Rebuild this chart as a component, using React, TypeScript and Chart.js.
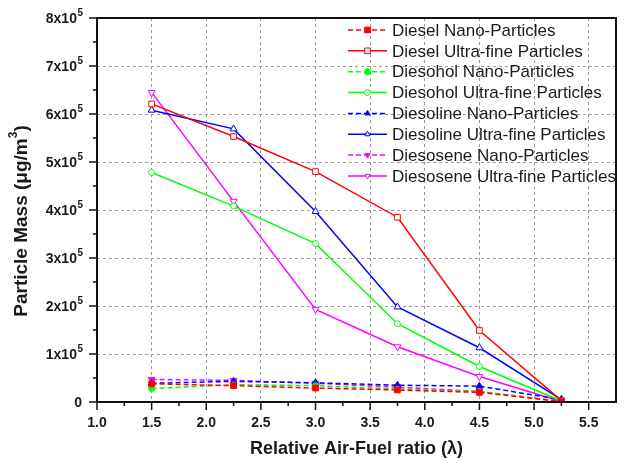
import React, { useEffect, useRef } from "react";
import { Chart, registerables } from "chart.js";

Chart.register(...registerables);

const lambdaValues = [1.5, 2.25, 3.0, 3.75, 4.5, 5.25];
const dieselNano = [0.38e5, 0.34e5, 0.29e5, 0.25e5, 0.2e5, 0.01e5];
const dieselUltra = [6.21e5, 5.53e5, 4.8e5, 3.85e5, 1.49e5, 0.03e5];
const diesoholNano = [0.28e5, 0.36e5, 0.34e5, 0.27e5, 0.22e5, 0.01e5];
const diesoholUltra = [4.78e5, 4.08e5, 3.3e5, 1.63e5, 0.74e5, 0.02e5];
const diesolineNano = [0.39e5, 0.43e5, 0.4e5, 0.35e5, 0.33e5, 0.05e5];
const diesolineUltra = [6.08e5, 5.69e5, 3.97e5, 1.98e5, 1.13e5, 0.05e5];
const diesoseneNano = [0.47e5, 0.45e5, 0.39e5, 0.31e5, 0.22e5, 0.01e5];
const diesoseneUltra = [6.45e5, 4.18e5, 1.93e5, 1.15e5, 0.53e5, 0.01e5];

const seriesLabels = [
  "Diesel Nano-Particles",
  "Diesel Ultra-fine Particles",
  "Diesohol Nano-Particles",
  "Diesohol Ultra-fine Particles",
  "Diesoline Nano-Particles",
  "Diesoline Ultra-fine Particles",
  "Diesosene Nano-Particles",
  "Diesosene Ultra-fine Particles",
];
const seriesValues = [
  dieselNano,
  dieselUltra,
  diesoholNano,
  diesoholUltra,
  diesolineNano,
  diesolineUltra,
  diesoseneNano,
  diesoseneUltra,
];
const seriesColors = ["#ff0000", "#ff0000", "#00ff00", "#00ff00", "#0000ff", "#0000ff", "#ff00ff", "#ff00ff"];
const seriesShapes = ["rect", "rect", "circle", "circle", "triangle", "triangle", "triangleDown", "triangleDown"];
const seriesNano = [true, false, true, false, true, false, true, false];

const xTitle = "Relative Air-Fuel ratio (λ)";
const yTitleMain = "Particle Mass (μg/m";
const yTitleSup = "3";
const yTitleEnd = ")";

const TEXT = "#1a1a1a";
const FONT = '"Liberation Sans", Arial, sans-serif';

function shapeRadius(shape: string) {
  if (shape === "rect") return 4;
  if (shape === "circle") return 3;
  return 4;
}

function drawMarker(ctx: CanvasRenderingContext2D, shape: string, x: number, y: number, r: number, color: string, filled: boolean) {
  ctx.save();
  ctx.setLineDash([]);
  ctx.beginPath();
  if (shape === "rect") {
    const s = Math.SQRT1_2 * r;
    ctx.rect(x - s, y - s, 2 * s, 2 * s);
  } else if (shape === "circle") {
    ctx.arc(x, y, r, 0, Math.PI * 2);
  } else {
    const down = shape === "triangleDown";
    const dir = down ? -1 : 1;
    for (let k = 0; k < 3; k++) {
      const a = -Math.PI / 2 + (k * 2 * Math.PI) / 3;
      const px = x + Math.cos(a) * r;
      const py = y + dir * Math.sin(a) * r;
      if (k === 0) ctx.moveTo(px, py);
      else ctx.lineTo(px, py);
    }
    ctx.closePath();
  }
  ctx.fillStyle = filled ? color : "#ffffff";
  ctx.fill();
  ctx.lineWidth = 1;
  ctx.strokeStyle = color;
  ctx.stroke();
  ctx.restore();
}

const decorPlugin = {
  id: "decor",
  afterDraw(chart: any) {
    const ctx: CanvasRenderingContext2D = chart.ctx;
    const { left, right, top, bottom } = chart.chartArea;
    const xs = chart.scales.x;
    const ys = chart.scales.y;
    ctx.save();

    // frame
    ctx.strokeStyle = "#111";
    ctx.lineWidth = 2;
    ctx.setLineDash([]);
    ctx.strokeRect(left, top, right - left, bottom - top);

    // x ticks
    ctx.lineWidth = 1.5;
    const xTicks = xs.ticks.map((t: any) => t.value);
    xTicks.forEach((v: number) => {
      const px = xs.getPixelForValue(v);
      ctx.beginPath();
      ctx.moveTo(px, bottom);
      ctx.lineTo(px, bottom + 8);
      ctx.stroke();
      const mid = v + (xs.options.ticks.stepSize as number) / 2;
      if (mid < xs.max) {
        const pm = xs.getPixelForValue(mid);
        ctx.beginPath();
        ctx.moveTo(pm, bottom);
        ctx.lineTo(pm, bottom + 4);
        ctx.stroke();
      }
    });
    // y ticks
    const yTicks = ys.ticks.map((t: any) => t.value);
    yTicks.forEach((v: number) => {
      const py = ys.getPixelForValue(v);
      ctx.beginPath();
      ctx.moveTo(left, py);
      ctx.lineTo(left - 8, py);
      ctx.stroke();
      const mid = v + (ys.options.ticks.stepSize as number) / 2;
      if (mid < ys.max) {
        const pm = ys.getPixelForValue(mid);
        ctx.beginPath();
        ctx.moveTo(left, pm);
        ctx.lineTo(left - 4, pm);
        ctx.stroke();
      }
    });

    // x labels
    ctx.fillStyle = TEXT;
    ctx.font = `bold 14px ${FONT}`;
    ctx.textAlign = "center";
    ctx.textBaseline = "middle";
    xTicks.forEach((v: number) => {
      ctx.fillText(v.toFixed(1), xs.getPixelForValue(v), bottom + 21);
    });

    // y labels
    yTicks.forEach((v: number) => {
      const py = ys.getPixelForValue(v);
      const rightEdge = left - 14;
      if (v === 0) {
        ctx.font = `bold 14px ${FONT}`;
        ctx.textAlign = "right";
        ctx.textBaseline = "middle";
        ctx.fillText("0", rightEdge - 1, py + 1);
        return;
      }
      const mantissa = Math.round(v / 1e5);
      ctx.font = `bold 10px ${FONT}`;
      const sw = ctx.measureText("5").width;
      ctx.textAlign = "left";
      ctx.textBaseline = "middle";
      ctx.fillText("5", rightEdge - sw, py - 5);
      ctx.font = `bold 14px ${FONT}`;
      ctx.textAlign = "right";
      ctx.fillText(`${mantissa}x10`, rightEdge - sw - 0.5, py + 1);
    });

    // x title
    ctx.font = `bold 18px ${FONT}`;
    ctx.textAlign = "center";
    ctx.textBaseline = "middle";
    ctx.fillText(xTitle, (left + right) / 2, 449);

    // y title (rotated)
    ctx.save();
    ctx.translate(22, 221);
    ctx.rotate(-Math.PI / 2);
    ctx.font = `bold 19px ${FONT}`;
    const w1 = ctx.measureText(yTitleMain).width;
    const w3 = ctx.measureText(yTitleEnd).width;
    ctx.font = `bold 12px ${FONT}`;
    const w2 = ctx.measureText(yTitleSup).width;
    const total = w1 + w2 + w3;
    let cx = -total / 2;
    ctx.textAlign = "left";
    ctx.textBaseline = "middle";
    ctx.font = `bold 19px ${FONT}`;
    ctx.fillText(yTitleMain, cx, 0);
    cx += w1;
    ctx.font = `bold 12px ${FONT}`;
    ctx.fillText(yTitleSup, cx, -8);
    cx += w2;
    ctx.font = `bold 19px ${FONT}`;
    ctx.fillText(yTitleEnd, cx, 0);
    ctx.restore();

    // legend
    const lx0 = 348;
    const lx1 = 387;
    chart.data.datasets.forEach((ds: any, i: number) => {
      const ly = 30 + i * 20.85;
      ctx.save();
      ctx.strokeStyle = seriesColors[i];
      ctx.lineWidth = 1.5;
      ctx.setLineDash(seriesNano[i] ? [5, 3] : []);
      ctx.beginPath();
      ctx.moveTo(lx0, ly);
      ctx.lineTo(lx1, ly);
      ctx.stroke();
      ctx.restore();
      drawMarker(ctx, seriesShapes[i], (lx0 + lx1) / 2, ly, seriesShapes[i] === "rect" ? 4 : 3, seriesColors[i], seriesNano[i]);
      ctx.fillStyle = TEXT;
      ctx.font = `17px ${FONT}`;
      ctx.textAlign = "left";
      ctx.textBaseline = "middle";
      ctx.fillText(ds.label, 392, ly + 1);
    });

    ctx.restore();
  },
};

export default function App() {
  const canvasRef = useRef<HTMLCanvasElement | null>(null);

  useEffect(() => {
    document.body.style.margin = "0";
    const canvas = canvasRef.current;
    if (!canvas) return;

    const datasets = seriesLabels.map((label, i) => {
      const shape = seriesShapes[i];
      return {
        label,
        data: lambdaValues.map((x, j) => ({ x, y: seriesValues[i][j] })),
        borderColor: seriesColors[i],
        backgroundColor: seriesNano[i] ? seriesColors[i] : "#ffffff",
        pointBorderColor: seriesColors[i],
        pointBackgroundColor: seriesNano[i] ? seriesColors[i] : "#ffffff",
        borderWidth: 1.5,
        borderDash: seriesNano[i] ? [5, 3] : [],
        pointStyle: shape === "triangleDown" ? "triangle" : shape,
        pointRotation: shape === "triangleDown" ? 180 : 0,
        pointRadius: shapeRadius(shape),
        pointBorderWidth: 1,
        tension: 0,
        fill: false,
      };
    });

    const chart = new Chart(canvas, {
      type: "line",
      data: { datasets },
      options: {
        responsive: false,
        animation: false,
        layout: { padding: { top: 18, right: 9, left: 0, bottom: 0 } },
        plugins: { legend: { display: false }, tooltip: { enabled: false } },
        scales: {
          x: {
            type: "linear",
            min: 1,
            max: 5.75,
            ticks: { stepSize: 0.5, includeBounds: false, display: false },
            grid: {
              color: "#999999",
              lineWidth: (c: any) => (c.tick && c.tick.value === 1 ? 0 : 1),
              drawTicks: false,
            },
            border: { display: false, dash: [3, 3] },
            afterFit: (s: any) => {
              s.height = 61;
            },
          },
          y: {
            type: "linear",
            min: 0,
            max: 8e5,
            ticks: { stepSize: 1e5, includeBounds: false, display: false },
            grid: {
              color: "#999999",
              lineWidth: (c: any) => (c.tick && (c.tick.value === 0 || c.tick.value === 8e5) ? 0 : 1),
              drawTicks: false,
            },
            border: { display: false, dash: [3, 3] },
            afterFit: (s: any) => {
              s.width = 97;
            },
          },
        },
      } as any,
      plugins: [decorPlugin],
    });

    return () => chart.destroy();
  }, []);

  return <canvas ref={canvasRef} width={625} height={463} style={{ display: "block" }} />;
}
